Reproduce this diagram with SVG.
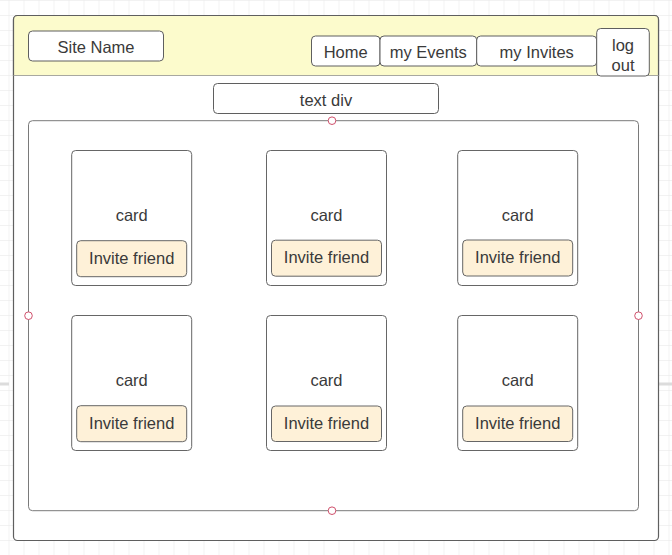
<svg xmlns="http://www.w3.org/2000/svg" width="672" height="555" viewBox="0 0 672 555">
<defs>
<pattern id="grid" x="8.5" y="0" width="15" height="15" patternUnits="userSpaceOnUse">
<path d="M0 0 V15 M0 0 H15" fill="none" stroke="#e6e6e6" stroke-width="1"/>
</pattern>
<style>
.t{font-family:"Liberation Sans",Arial,sans-serif;font-size:16.5px;fill:#3a3a3a;text-anchor:middle;dominant-baseline:central}
.box{fill:#ffffff;stroke:#5f5f5f;stroke-width:1}
.card{fill:#ffffff;stroke:#666666;stroke-width:1}
.btn{fill:#fef1d8;stroke:#666666;stroke-width:1}
.pt{fill:#ffffff;stroke:#d0506c;stroke-width:1}
</style>
</defs>
<rect width="672" height="555" fill="#ffffff"/>
<rect width="672" height="555" fill="url(#grid)"/>
<rect x="0" y="382.5" width="9" height="3" fill="#dcdcdc"/>
<rect x="659" y="382.5" width="13" height="3" fill="#dcdcdc"/>

<g id="page">
<rect x="13.5" y="15.5" width="645" height="525" rx="4" fill="#ffffff" stroke="#5f5f5f" stroke-width="1.2"/>
</g>
<g id="header">
<path d="M13.5 75.5 V19.5 a4 4 0 0 1 4 -4 H654.5 a4 4 0 0 1 4 4 V75.5 Z" fill="#fcfbcc" stroke="#5f5f5f" stroke-width="1.2"/>
<line x1="13.5" y1="75.5" x2="658.5" y2="75.5" stroke="#a8a8a0" stroke-width="1"/>
</g>
<g id="site-name">
<rect class="box" x="28.5" y="31" width="135" height="30" rx="4"/>
<text class="t" x="96" y="47">Site Name</text>
</g>
<g id="nav-home">
<rect class="box" x="311.5" y="36" width="68.5" height="30" rx="4"/>
<text class="t" x="345.7" y="52">Home</text>
</g>
<g id="nav-events">
<rect class="box" x="380" y="36" width="96.7" height="30" rx="4"/>
<text class="t" x="428.3" y="52">my Events</text>
</g>
<g id="nav-invites">
<rect class="box" x="476.7" y="36" width="120" height="30" rx="4"/>
<text class="t" x="536.7" y="52">my Invites</text>
</g>
<g id="logout">
<rect class="box" x="596.7" y="28.5" width="52.6" height="47.5" rx="4"/>
<text class="t" x="623" y="45">log</text>
<text class="t" x="623" y="65">out</text>
</g>
<g id="text-div">
<rect class="box" x="213.5" y="83.5" width="225" height="30" rx="4"/>
<text class="t" x="326" y="99.5">text div</text>
</g>
<g id="container">
<rect x="28.5" y="120.7" width="610" height="390" rx="4" fill="none" stroke="#7a7a7a" stroke-width="1"/>
</g>

<g id="card-1">
<rect class="card" x="71.7" y="150.5" width="120" height="135" rx="4"/>
<text class="t" x="131.7" y="214.5">card</text>
<rect class="btn" x="76.7" y="240.7" width="110" height="36" rx="4"/>
<text class="t" x="131.7" y="257.5">Invite friend</text>
</g>
<g id="card-2">
<rect class="card" x="266.5" y="150.5" width="120" height="135" rx="4"/>
<text class="t" x="326.5" y="214.5">card</text>
<rect class="btn" x="271.5" y="240.2" width="110" height="36" rx="4"/>
<text class="t" x="326.5" y="257">Invite friend</text>
</g>
<g id="card-3">
<rect class="card" x="457.7" y="150.5" width="120" height="135" rx="4"/>
<text class="t" x="517.7" y="214.5">card</text>
<rect class="btn" x="462.7" y="240" width="110" height="36" rx="4"/>
<text class="t" x="517.7" y="257">Invite friend</text>
</g>
<g id="card-4">
<rect class="card" x="71.7" y="315.5" width="120" height="135" rx="4"/>
<text class="t" x="131.7" y="379.5">card</text>
<rect class="btn" x="76.7" y="405.7" width="110" height="36" rx="4"/>
<text class="t" x="131.7" y="422.5">Invite friend</text>
</g>
<g id="card-5">
<rect class="card" x="266.5" y="315.5" width="120" height="135" rx="4"/>
<text class="t" x="326.5" y="379.5">card</text>
<rect class="btn" x="271.5" y="406" width="110" height="35.5" rx="4"/>
<text class="t" x="326.5" y="423">Invite friend</text>
</g>
<g id="card-6">
<rect class="card" x="457.7" y="315.5" width="120" height="135" rx="4"/>
<text class="t" x="517.7" y="379.5">card</text>
<rect class="btn" x="462.7" y="406" width="110" height="35.5" rx="4"/>
<text class="t" x="517.7" y="423">Invite friend</text>
</g>

<g id="connectors">
<circle class="pt" cx="332" cy="120.7" r="3.8"/>
<circle class="pt" cx="332" cy="510.7" r="3.8"/>
<circle class="pt" cx="28.5" cy="315.7" r="3.8"/>
<circle class="pt" cx="638.5" cy="315.7" r="3.8"/>
</g>
</svg>
